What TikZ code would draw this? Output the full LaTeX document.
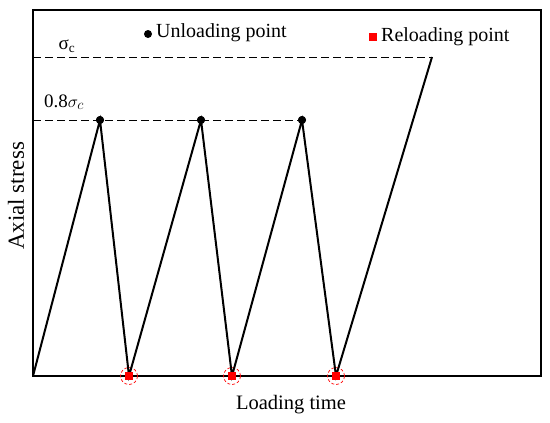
\documentclass[tikz,border=0pt]{standalone}
\usepackage{fontspec}
\setmainfont{Liberation Serif}
\begin{document}
\begin{tikzpicture}[x=1pt,y=-1pt,
  frame/.style={line width=2pt},
  curve/.style={line width=2pt},
  guide/.style={line width=0.9pt, dash pattern=on 8pt off 4pt},
  lbl/.style={font=\fontsize{20}{24}\selectfont, inner sep=0pt},
  unl/.style={circle, fill=black, minimum size=8pt, inner sep=0pt},
  rel/.style={rectangle, fill=red, minimum size=8pt, inner sep=0pt},
  relring/.style={circle, draw=red, densely dashed, line width=0.7pt, minimum size=17pt, inner sep=0pt}
]
\useasboundingbox (0,0) rectangle (550,423);
% frame
\draw[frame] (33,10) rectangle (541,376);
% guides
\coordinate (gs) at (33,57);
\coordinate (g8) at (33,120);
% points
\coordinate (o) at (33,376);
\node[unl] (p1) at (100,120) {};
\node[unl] (p2) at (201,120) {};
\node[unl] (p3) at (302,120) {};
\coordinate (p4) at (432,57);
\node[relring] (r1c) at (129,376) {};
\node[relring] (r2c) at (232,376) {};
\node[relring] (r3c) at (336,376) {};
\coordinate (r1) at (129,376);
\coordinate (r2) at (232,376);
\coordinate (r3) at (336,376);
\draw[guide] (gs) -- (p4);
\draw[guide] (g8) -- (p3);
\draw[curve, line join=miter] (o) -- (p1.center) -- (r1) -- (p2.center) -- (r2) -- (p3.center) -- (r3) -- (p4);
\node[unl] at (p1) {};
\node[unl] at (p2) {};
\node[unl] at (p3) {};
\node[rel] (q1) at (r1) {};
\node[rel] (q2) at (r2) {};
\node[rel] (q3) at (r3) {};
% labels
\node[lbl, font=\fontsize{19}{22}\selectfont] (sc) at (67,46) {σ\textsubscript{c}};
\node[lbl, font=\fontsize{19}{22}\selectfont] (s8) at (64,102) {0.8$\sigma_c$};
\node[unl] (lu) at (148,34) {};
\node[lbl, anchor=west] (tu) at (156,33) {Unloading point};
\node[rel] (lr) at (373,37) {};
\node[lbl, anchor=west] (tr) at (381,37) {Reloading point};
\node[lbl, rotate=90, font=\fontsize{23}{26}\selectfont] (ya) at (16,196) {Axial stress};
\node[lbl, font=\fontsize{20.5}{24}\selectfont] (xa) at (291,405) {Loading time};
\end{tikzpicture}
\end{document}
